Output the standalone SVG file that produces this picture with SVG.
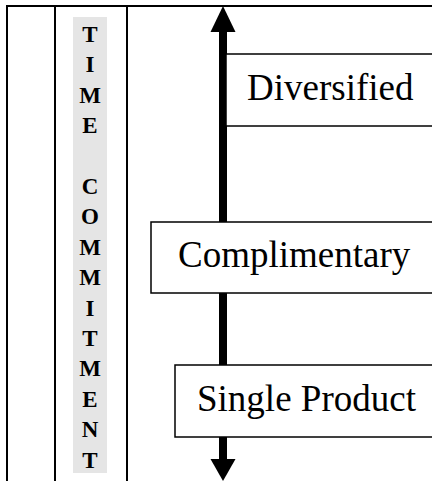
<svg xmlns="http://www.w3.org/2000/svg" width="432" height="481" viewBox="0 0 432 481">
  <style>
    .rule { stroke: #000; stroke-width: 2; fill: none; }
    .box { fill: #fff; stroke: #000; stroke-width: 1.5; }
    .label { font-family: "Liberation Serif", "Times New Roman", serif; font-size: 37px; fill: #000; }
    .vert { font-family: "Liberation Serif", "Times New Roman", serif; font-size: 23px; font-weight: bold; fill: #000; text-anchor: middle; }
  </style>
  <rect width="432" height="481" fill="#fff"/>

  <!-- table frame -->
  <g id="frame">
    <line class="rule" x1="6" y1="6" x2="432" y2="6" stroke-width="1.5"/>
    <line class="rule" x1="7" y1="6" x2="7" y2="481"/>
    <line class="rule" x1="55" y1="6" x2="55" y2="481"/>
    <line class="rule" x1="127" y1="6" x2="127" y2="481"/>
  </g>

  <!-- vertical axis title -->
  <g id="time-commitment">
    <rect x="73" y="17" width="34" height="456" fill="#e5e5e5"/>
    <text class="vert" x="90" y="42">T</text>
    <text class="vert" x="90" y="72.4">I</text>
    <text class="vert" x="90" y="102.8">M</text>
    <text class="vert" x="90" y="133.2">E</text>
    <text class="vert" x="90" y="194">C</text>
    <text class="vert" x="90" y="224.4">O</text>
    <text class="vert" x="90" y="254.8">M</text>
    <text class="vert" x="90" y="285.2">M</text>
    <text class="vert" x="90" y="315.6">I</text>
    <text class="vert" x="90" y="346">T</text>
    <text class="vert" x="90" y="376.4">M</text>
    <text class="vert" x="90" y="406.8">E</text>
    <text class="vert" x="90" y="437.2">N</text>
    <text class="vert" x="90" y="467.6">T</text>
  </g>

  <!-- double-headed axis arrow -->
  <g id="connectors">
    <rect x="219" y="30" width="8" height="431" fill="#000"/>
    <polygon points="223,6 210.5,32 235.5,32" fill="#000"/>
    <polygon points="223,481 210.5,459 235.5,459" fill="#000"/>
  </g>

  <g id="diversified">
    <rect class="box" x="226" y="54" width="220" height="72"/>
    <text class="label" x="247" y="100">Diversified</text>
  </g>

  <g id="complimentary">
    <rect class="box" x="151" y="222" width="300" height="71"/>
    <text class="label" x="178" y="267">Complimentary</text>
  </g>

  <g id="single-product">
    <rect class="box" x="175" y="365" width="280" height="72"/>
    <text class="label" x="197" y="411">Single Product</text>
  </g>
</svg>
